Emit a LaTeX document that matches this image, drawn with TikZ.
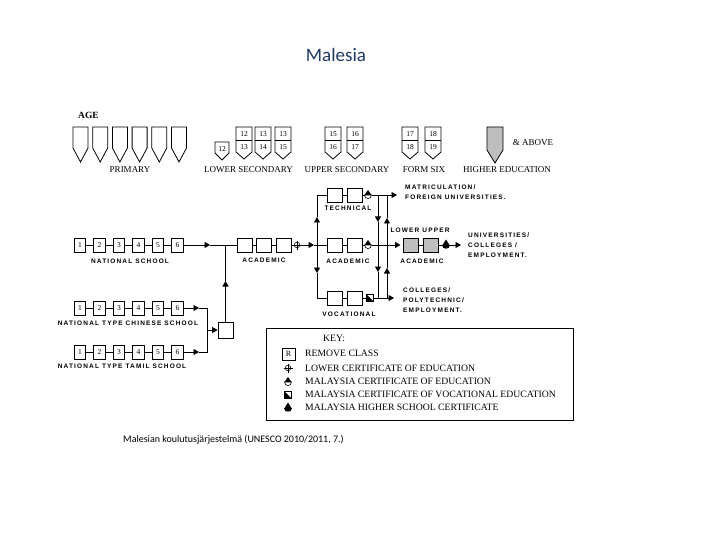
\documentclass[tikz,border=0pt]{standalone}
\usepackage{fontspec}
\setmainfont{Liberation Serif}
\newfontfamily\titlefont{Carlito}
\newfontfamily\lblfont[LetterSpace=18]{Liberation Sans}
\usetikzlibrary{arrows.meta}
\definecolor{titleblue}{RGB}{31,56,100}
\definecolor{grayfill}{RGB}{190,190,190}
\tikzset{
  ln/.style={line width=0.8pt},
  tri/.style={ln,-{Triangle[length=5.5pt,width=6pt]}},
  sh/.style={line width=0.8pt,line join=miter},
  num/.style={font=\fontsize{7.5}{8}\selectfont,inner sep=0pt},
  hdr/.style={font=\fontsize{9}{10}\selectfont,inner sep=0pt},
  lbl/.style={font=\lblfont\bfseries\fontsize{6.5}{7}\selectfont,inner sep=0pt},
  rlbl/.style={lbl,anchor=west},
  nbox/.style={draw,line width=0.8pt,minimum width=11.5pt,minimum height=14pt,inner sep=0pt,font=\fontsize{7.5}{8}\selectfont},
  mbox/.style={draw,line width=0.8pt,minimum width=15pt,minimum height=14pt,inner sep=0pt},
  gbox/.style={mbox,fill=grayfill},
  keyt/.style={font=\fontsize{9.7}{10}\selectfont,inner sep=0pt,anchor=west},
  lce/.pic={\draw[line width=0.6pt,fill=white] (0,0) circle (2.8);
            \draw[line width=0.6pt] (-4.5,0)--(4.5,0) (0,-4.5)--(0,4.5);},
  mce/.pic={\fill[black] (-3.6,0.2) -- (0,-5) -- (3.6,0.2) -- cycle;
            \draw[line width=0.6pt,fill=white] (-3.5,0) .. controls (-3.5,4.7) and (3.5,4.7) .. (3.5,0) -- cycle;},
  mhsc/.pic={\fill[black] (-3.6,0.2) -- (0,-5.5) -- (3.6,0.2) -- cycle;
             \fill[black] (-3.6,0) .. controls (-3.6,4.8) and (3.6,4.8) .. (3.6,0) -- cycle;},
  mcve/.pic={\draw[line width=0.6pt,fill=white] (-3.5,-3.5) rectangle (3.5,3.5);
             \fill[black] (-3.5,-3.5) -- (-3.5,3.5) -- (3.5,3.5) -- cycle;},
}
\newcommand\pshield[1]{\draw[sh] (#1,127) -- ++(15,0) -- ++(0,21) -- ++(-7.5,14) -- ++(-7.5,-14) -- cycle;}
\newcommand\dshield[3]{%
  \draw[sh] (#1,127) -- ++(16,0) -- ++(0,25) -- ++(-8,7) -- ++(-8,-7) -- cycle;
  \draw[sh] (#1,140.5) -- ++(16,0);
  \node[num] at (#1+8,134) {#2};
  \node[num] at (#1+8,147) {#3};}
\begin{document}
\begin{tikzpicture}[x=1pt,y=-1pt]
\useasboundingbox (0,0) rectangle (720,540);
% title
\node[font=\titlefont\fontsize{19}{22}\selectfont,text=titleblue] (title) at (336,55) {Malesia};
% ages
\node[font=\bfseries\fontsize{9.5}{10}\selectfont,anchor=west,inner sep=0pt] (age) at (78,115) {AGE};
\foreach \i in {0,...,5}{\pshield{73+19.7*\i}}
\node[hdr] (prim) at (130,170) {PRIMARY};
\draw[sh] (215,142) -- ++(14,0) -- ++(0,11) -- ++(-7,7) -- ++(-7,-7) -- cycle;
\node[num] at (222,149) {12};
\dshield{236}{12}{13}
\dshield{255}{13}{14}
\dshield{275}{13}{15}
\node[hdr] (lsec) at (248.5,170) {LOWER SECONDARY};
\dshield{325}{15}{16}
\dshield{347}{16}{17}
\node[hdr] (usec) at (347,170) {UPPER SECONDARY};
\dshield{402}{17}{18}
\dshield{425}{18}{19}
\node[hdr] (fsix) at (424,170) {FORM SIX};
\draw[sh,fill=grayfill] (487,127) -- ++(16,0) -- ++(0,23) -- ++(-8,13) -- ++(-8,-13) -- cycle;
\node[hdr] (above) at (533,143) {\& ABOVE};
\node[hdr] (hed) at (507,170) {HIGHER EDUCATION};
% primary rows
\foreach \r/\y in {n/245,c/308,t/352}{
  \foreach \i in {1,...,6}{\node[nbox] (\r\i) at (80+19.5*\i-19.5,\y) {\i};}
  \foreach \i/\j in {1/2,2/3,3/4,4/5,5/6}{\draw[ln] (\r\i) -- (\r\j);}
}
\node[lbl] (nsl) at (130,261) {NATIONAL SCHOOL};
\node[lbl] (ncl) at (128,323) {NATIONAL TYPE CHINESE SCHOOL};
\node[lbl] (ntl) at (122,366) {NATIONAL TYPE TAMIL SCHOOL};
% remove class
\node[draw,line width=0.8pt,minimum width=15pt,minimum height=16pt,inner sep=0pt] (rc) at (225.5,330) {};
\coordinate (nA) at (210,245);
\coordinate (j1) at (225.5,245);
\coordinate (cA) at (199,308);
\coordinate (cB) at (207,308);
\coordinate (tA) at (199,352);
\coordinate (tB) at (207,352);
\coordinate (mA) at (207,330);
\coordinate (rU) at (225.5,281);
\draw[tri] (n6.east) -- (nA);
\draw[tri] (c6.east) -- (cA);
\draw[tri] (t6.east) -- (tA);
\draw[ln] (cA) -- (cB) -- (tB) -- (tA);
\draw[tri] (mA) -- (rc.west);
\draw[tri] (rc.north) -- (rU);
\draw[ln] (rU) -- (j1);
% lower secondary academic
\node[mbox] (a1) at (244.5,245) {};
\node[mbox] (a2) at (264,245) {};
\node[mbox] (a3) at (284,245) {};
\draw[ln] (nA) -- (a1.west);
\draw[ln] (a1) -- (a2) (a2) -- (a3);
\node[lbl] (acl) at (264,260) {ACADEMIC};
\coordinate (lce1) at (297,245);
\coordinate (aA) at (314,245);
\coordinate (j2) at (317,245);
\draw[ln] (a3.east) -- (lce1);
\draw[tri] (lce1) -- (aA);
\draw[ln] (aA) -- (j2);
\pic at (lce1) {lce};
% upper secondary streams
\node[mbox] (t1) at (334.5,195) {};
\node[mbox] (t2) at (354.5,195) {};
\node[mbox] (m1) at (334.5,245) {};
\node[mbox] (m2) at (354.5,245) {};
\node[mbox] (v1) at (334.5,298) {};
\node[mbox] (v2) at (354.5,298) {};
\node[lbl] (tcl) at (348,208) {TECHNICAL};
\node[lbl] (mcl) at (348,261) {ACADEMIC};
\node[lbl] (vcl) at (349,314) {VOCATIONAL};
\draw[ln] (t1) -- (t2) (m1) -- (m2) (v1) -- (v2);
\coordinate (jt) at (317,195);
\coordinate (jv) at (317,298);
\coordinate (uA) at (317,217);
\coordinate (dA) at (317,273);
\draw[tri] (j2) -- (uA);
\draw[ln] (uA) -- (jt) -- (t1.west);
\draw[tri] (j2) -- (dA);
\draw[ln] (dA) -- (jv) -- (v1.west);
\draw[ln] (j2) -- (m1.west);
% right verticals
\coordinate (L1) at (378,195);
\coordinate (L2) at (378,222);
\coordinate (L3) at (378,272);
\coordinate (L4) at (378,298);
\coordinate (R1) at (387,195);
\coordinate (R2) at (387,218);
\coordinate (R3) at (387,268);
\coordinate (R4) at (387,298);
\draw[tri] (L1) -- (L2);
\draw[tri] (L2) -- (L3);
\draw[ln] (L3) -- (L4);
\draw[tri] (R4) -- (R3);
\draw[tri] (R3) -- (R2);
\draw[ln] (R2) -- (R1);
% rows to the right
\coordinate (ts) at (368,195);
\coordinate (ms) at (368,245);
\coordinate (vs) at (370,298);
\coordinate (tE) at (397,195);
\coordinate (mE) at (400.5,245);
\coordinate (vE) at (394,298);
\draw[tri] (t2.east) -- (tE);
\draw[tri] (m2.east) -- (mE);
\draw[tri] (v2.east) -- (vE);
\pic at (ts) {mce};
\pic at (ms) {mce};
\pic at (vs) {mcve};
\node[gbox] (g1) at (410.5,245) {};
\node[gbox] (g2) at (430.5,245) {};
\draw[ln] (g1) -- (g2);
\coordinate (gs) at (446,245);
\coordinate (gE) at (461,245);
\draw[tri] (g2.east) -- (gE);
\pic at (gs) {mhsc};
\node[lbl] (lul) at (420,230) {LOWER UPPER};
\node[lbl] (gal) at (422,261) {ACADEMIC};
\node[rlbl] at (405,187) {MATRICULATION/};
\node[rlbl] at (405,197) {FOREIGN UNIVERSITIES.};
\node[rlbl] at (468,235) {UNIVERSITIES/};
\node[rlbl] at (468,245) {COLLEGES /};
\node[rlbl] at (468,255) {EMPLOYMENT.};
\node[rlbl] at (403,290) {COLLEGES/};
\node[rlbl] at (403,300) {POLYTECHNIC/};
\node[rlbl] at (403,310) {EMPLOYMENT.};
% key
\node[draw,line width=0.8pt,minimum width=307pt,minimum height=92pt,anchor=north west,inner sep=0pt] (key) at (266,328) {};
\node[keyt] at (323,338) {KEY:};
\node[draw,line width=0.6pt,minimum width=13pt,minimum height=12pt,inner sep=0pt,font=\fontsize{8}{8}\selectfont] (kR) at (288.5,354) {R};
\node[keyt] at (305,353) {REMOVE CLASS};
\pic at (288,368) {lce};
\node[keyt] at (305,368) {LOWER CERTIFICATE OF EDUCATION};
\pic at (288,382) {mce};
\node[keyt] at (305,381) {MALAYSIA CERTIFICATE OF EDUCATION};
\pic at (288,395) {mcve};
\node[keyt] at (305,394.5) {MALAYSIA CERTIFICATE OF VOCATIONAL EDUCATION};
\pic at (288,408) {mhsc};
\node[keyt] at (305,407.5) {MALAYSIA HIGHER SCHOOL CERTIFICATE};
% caption
\node[font=\titlefont\fontsize{10}{12}\selectfont,anchor=west,inner sep=0pt] (cap) at (123,440) {Malesian koulutusjärjestelmä (UNESCO 2010/2011, 7.)};
\end{tikzpicture}
\end{document}
